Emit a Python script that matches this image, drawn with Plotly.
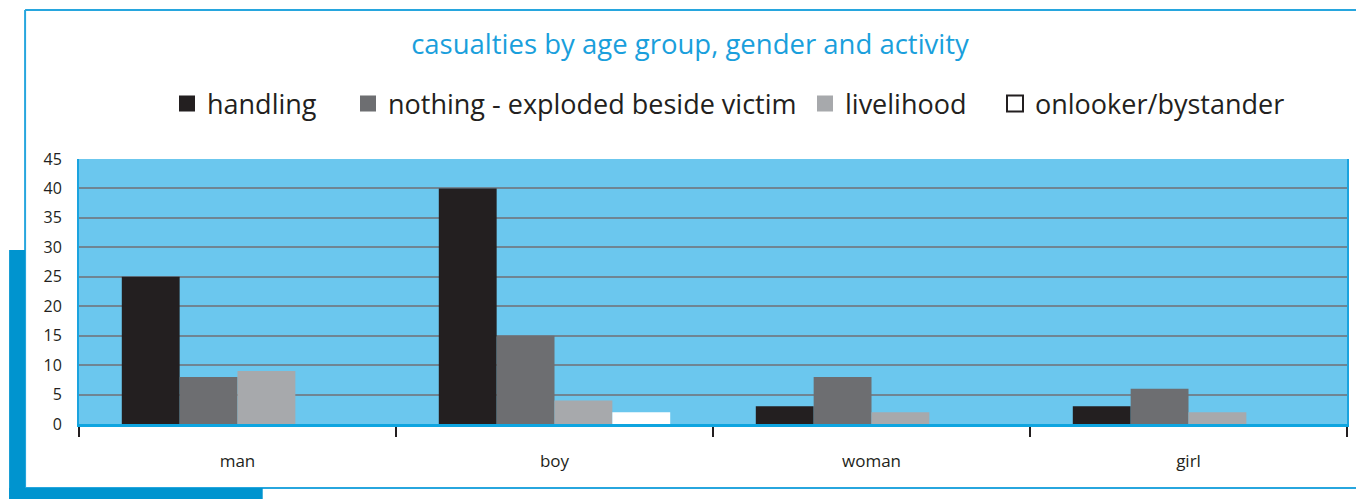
import plotly.graph_objects as go

categories = ["man", "boy", "woman", "girl"]
series_names = ["handling", "nothing - exploded beside victim", "livelihood", "onlooker/bystander"]
handling = [25, 40, 3, 3]
nothing_exploded = [8, 15, 8, 6]
livelihood = [9, 4, 2, 2]
onlooker = [0, 2, 0, 0]
y_ticks = [0, 5, 10, 15, 20, 25, 30, 35, 40, 45]

series_values = [handling, nothing_exploded, livelihood, onlooker]
colors = ["#231f20", "#6d6e71", "#a7a9ac", "#ffffff"]
legend_ids = ["legend", "legend2", "legend3", "legend4"]
legend_px = [167, 348, 805, 995]

W, H = 1358, 499
L, R, T, B = 79, 9, 159, 75
FONT = "Open Sans"
TXT = "#231f20"

fig = go.Figure()
for name, vals, col in zip(series_names, series_values, colors):
    fig.add_trace(go.Bar(x=categories, y=vals, name=name, marker=dict(color=col, line=dict(width=0)),
                         showlegend=False))

for name, col, lid in zip(series_names, colors, legend_ids):
    line = dict(color="#231f20", width=2) if col == "#ffffff" else dict(width=0)
    fig.add_trace(go.Scatter(x=[None], y=[None], mode="markers", name=name, legend=lid,
                             marker=dict(symbol="square", size=20, color=col, line=line)))

legend_common = dict(orientation="h", xref="container", yref="container", xanchor="left", yanchor="middle",
                     y=1 - 104 / H, font=dict(family=FONT, size=27, color=TXT), bgcolor="rgba(0,0,0,0)",
                     borderwidth=0, itemclick=False)
legends = {}
for lid, px in zip(legend_ids, legend_px):
    legends[lid] = dict(legend_common, x=px / W)

pw, ph = W - L - R, H - T - B
def px2x(px):
    return (px - L) / pw
def py2y(py):
    return (H - B - py) / ph

shapes = [
    dict(type="line", xref="paper", yref="paper", x0=px2x(25), x1=px2x(1358), y0=py2y(10), y1=py2y(10),
         line=dict(color="#27a6de", width=2)),
    dict(type="line", xref="paper", yref="paper", x0=px2x(25), x1=px2x(25), y0=py2y(10), y1=py2y(488),
         line=dict(color="#27a6de", width=2)),
    dict(type="line", xref="paper", yref="paper", x0=px2x(25), x1=px2x(1358), y0=py2y(488), y1=py2y(488),
         line=dict(color="#27a6de", width=2)),
    dict(type="rect", xref="paper", yref="paper", x0=px2x(9), x1=px2x(25), y0=py2y(250), y1=py2y(499),
         fillcolor="#0094cf", line=dict(width=0)),
    dict(type="rect", xref="paper", yref="paper", x0=px2x(9), x1=px2x(263), y0=py2y(488), y1=py2y(499),
         fillcolor="#0094cf", line=dict(width=0)),
]

fig.update_layout(
    width=W, height=H,
    margin=dict(l=L, r=R, t=T, b=B),
    paper_bgcolor="#ffffff",
    plot_bgcolor="#6bc7ee",
    barmode="group", bargap=0.27, bargroupgap=0,
    title=dict(text="casualties by age group, gender and activity", x=690 / W, xanchor="center",
               xref="container", yref="container", y=1 - 44 / H, yanchor="middle",
               font=dict(family=FONT, size=27.5, color="#1a9fdc")),
    font=dict(family=FONT, color=TXT),
    shapes=shapes,
    **legends,
)
fig.update_xaxes(type="category", showline=True, linecolor="#0ea5e0", linewidth=3, showgrid=False,
                 ticks="outside", tickson="boundaries", ticklen=10, tickwidth=2, tickcolor="#231f20",
                 ticklabelstandoff=20, tickfont=dict(family=FONT, size=17, color=TXT))
fig.update_yaxes(range=[0, 45], tickvals=y_ticks, showline=True, mirror=True, linecolor="#1aa3df", linewidth=2,
                 showgrid=True, gridcolor="#6f8593", gridwidth=2, zeroline=False,
                 ticks="outside", ticklen=12, tickcolor="rgba(0,0,0,0)",
                 tickfont=dict(family=FONT, size=16, color=TXT))

fig.write_html("out.html", config={"displayModeBar": False},
               post_script="document.body.style.margin='0';document.body.style.overflow='hidden';")
